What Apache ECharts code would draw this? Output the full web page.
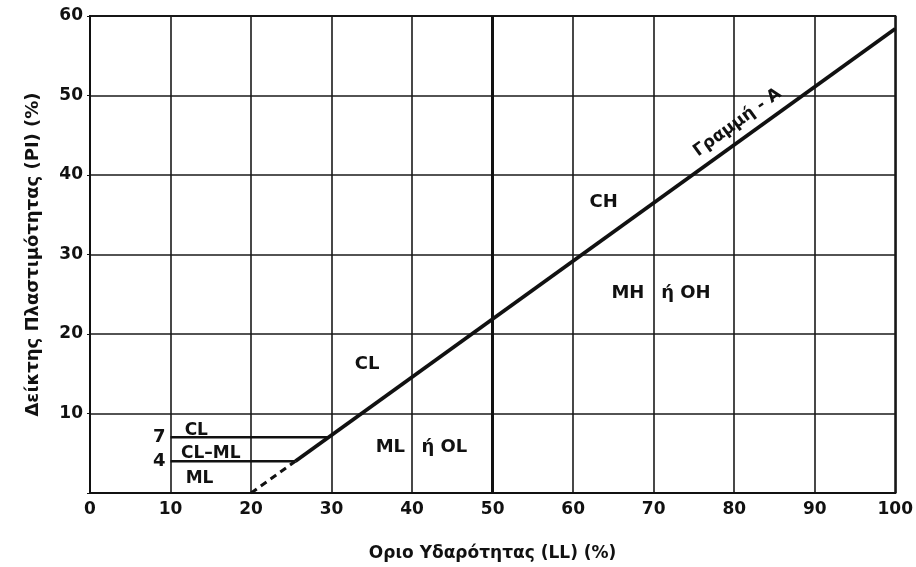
<!DOCTYPE html>
<html><head><meta charset="utf-8">
<script src="https://cdn.jsdelivr.net/npm/echarts@6/dist/echarts.min.js"></script>
<style>html,body{margin:0;padding:0;background:#fff}#c{width:916px;height:567px}</style>
</head><body><div id="c"></div>
<script>
// A-line (PI = 0.73(LL-20)) points
var aLineSolid = [[25.5, 4], [100, 58.4]];
var aLineDashed = [[20, 0], [25.5, 4]];
var line7 = [[10, 7], [29.6, 7]];
var line4 = [[10, 4], [25.5, 4]];
var xTicks = [0, 10, 20, 30, 40, 50, 60, 70, 80, 90, 100];
var yTicks = [0, 10, 20, 30, 40, 50, 60];
// zone labels: [LL, PI, text]
var zoneLabels = [
  [37.3, 5.8, 'ML'],
  [44.0, 5.8, 'ή OL'],
  [34.4, 16.2, 'CL'],
  [63.8, 36.5, 'CH'],
  [66.8, 25.1, 'MH'],
  [74.0, 25.1, 'ή OH']
];
var smallLabels = [
  [13.2, 7.9, 'CL'],
  [15.0, 4.9, 'CL–ML'],
  [13.6, 1.8, 'ML']
];
var sideLabels = [[8.6, 7, '7'], [8.6, 4, '4']];
var aLineLabel = [[80.4, 46.6, 'Γραμμή - A']];

var FONT = 'DejaVu Sans';
var chart = echarts.init(document.getElementById('c'), null, {renderer: 'canvas'});
function lineSeries(data, type, w) {
  return {type: 'line', data: data, symbol: 'none', silent: true,
    lineStyle: {color: '#111', width: w, type: type}, z: 5};
}
function textSeries(arr, size, rot) {
  return {type: 'custom', silent: true, z: 6,
    data: arr.map(function (d) { return [d[0], d[1], d[2]]; }),
    renderItem: function (params, api) {
      var p = api.coord([api.value(0), api.value(1)]);
      var d = arr[params.dataIndex];
      return {type: 'text', x: p[0], y: p[1], rotation: (rot || 0) * Math.PI / 180,
        style: {text: d[2], x: 0, y: 0, align: 'center', verticalAlign: 'middle',
          font: 'bold ' + size + 'px "' + FONT + '"', fill: '#111'}};
    }};
}
chart.setOption({
  animation: false,
  backgroundColor: '#fff',
  grid: {left: 90, right: 20, top: 16, bottom: 74, show: true, borderColor: '#111', borderWidth: 2},
  xAxis: {
    type: 'value', min: 0, max: 100, interval: 10,
    name: 'Οριο Υδαρότητας (LL) (%)', nameLocation: 'middle', nameGap: 52,
    nameTextStyle: {fontFamily: FONT, fontSize: 17, fontWeight: 'bold', color: '#111'},
    axisLine: {show: true, lineStyle: {color: '#111', width: 2}},
    axisTick: {show: false},
    axisLabel: {fontFamily: FONT, fontSize: 17, fontWeight: 'bold', color: '#111', margin: 8,
      formatter: function (v) { return xTicks.indexOf(v) >= 0 ? String(v) : ''; }},
    splitLine: {show: true, lineStyle: {color: '#1a1a1a', width: 1.6}}
  },
  yAxis: {
    type: 'value', min: 0, max: 60, interval: 10,
    name: 'Δείκτης Πλαστιμότητας (PI) (%)', nameLocation: 'middle', nameGap: 48, nameRotate: 90,
    nameTextStyle: {fontFamily: FONT, fontSize: 18, fontWeight: 'bold', color: '#111'},
    axisLine: {show: true, lineStyle: {color: '#111', width: 2}},
    axisTick: {show: true, length: 3, lineStyle: {color: '#111'}},
    axisLabel: {fontFamily: FONT, fontSize: 17, fontWeight: 'bold', color: '#111', margin: 7,
      formatter: function (v) { return (v !== 0 && yTicks.indexOf(v) >= 0) ? String(v) : ''; }},
    splitLine: {show: true, lineStyle: {color: '#1a1a1a', width: 1.6}}
  },
  series: [
    Object.assign(lineSeries(aLineSolid, 'solid', 3.8), {
      markLine: {silent: true, symbol: 'none', label: {show: false},
        lineStyle: {color: '#111', width: 3, type: 'solid'}, data: [{xAxis: 50}]}
    }),
    lineSeries(aLineDashed, [7, 5], 3),
    lineSeries(line7, 'solid', 2.5),
    lineSeries(line4, 'solid', 2.5),
    textSeries(zoneLabels, 18),
    textSeries(smallLabels, 17),
    textSeries(sideLabels, 18),
    textSeries(aLineLabel, 17, 36)
  ]
});
</script></body></html>
